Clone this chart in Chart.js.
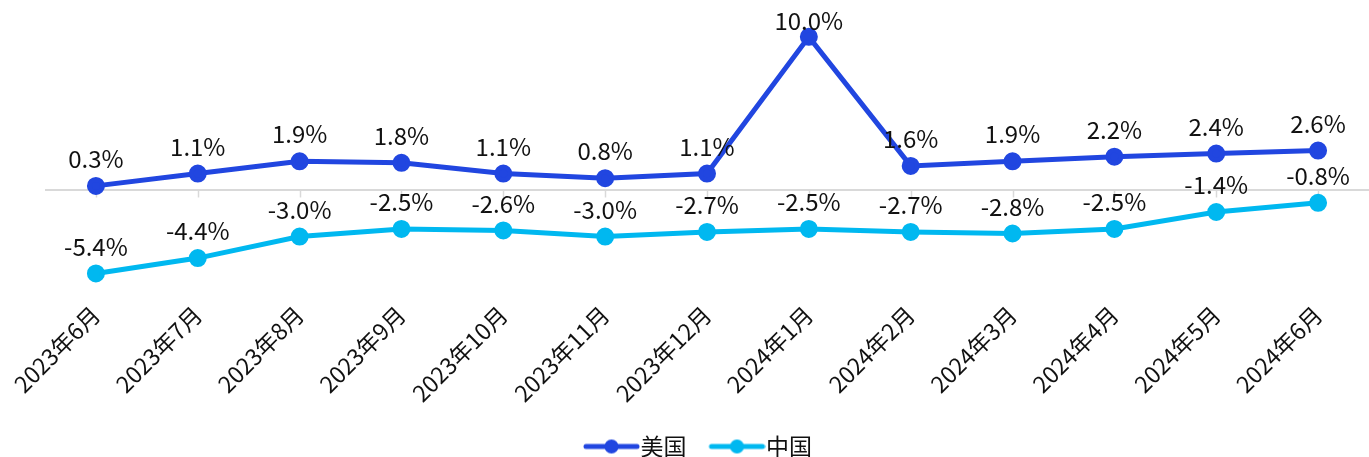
<!DOCTYPE html>
<html>
<head>
<meta charset="utf-8">
<script src="https://cdn.jsdelivr.net/npm/chart.js@4/dist/chart.umd.min.js"></script>
<style>
  html, body { margin: 0; padding: 0; background: #fff; }
  #wrap { width: 1369px; height: 457px; }
</style>
</head>
<body>
<div id="wrap"><canvas id="c" width="1369" height="457"></canvas></div>
<script>
// Months along the category axis
const months = ['2023年6月', '2023年7月', '2023年8月', '2023年9月', '2023年10月', '2023年11月', '2023年12月',
                '2024年1月', '2024年2月', '2024年3月', '2024年4月', '2024年5月', '2024年6月'];
// Year-on-year change, percent
const usValues = [0.3, 1.1, 1.9, 1.8, 1.1, 0.8, 1.1, 10.0, 1.6, 1.9, 2.2, 2.4, 2.6];
const cnValues = [-5.4, -4.4, -3.0, -2.5, -2.6, -3.0, -2.7, -2.5, -2.7, -2.8, -2.5, -1.4, -0.8];
const seriesNames = ['美国', '中国'];
const seriesColors = ['#2146E0', '#00B8F0'];

const FONT = '"Noto Sans CJK SC", "Noto Sans", sans-serif';

// Legend swatch: a short line with a dot in the middle
function swatch(color) {
  const cv = document.createElement('canvas');
  cv.width = 66; cv.height = 16;
  const g = cv.getContext('2d');
  g.strokeStyle = color; g.lineWidth = 5; g.lineCap = 'round';
  g.beginPath(); g.moveTo(12, 8); g.lineTo(63, 8); g.stroke();
  g.fillStyle = color;
  g.beginPath(); g.arc(37.5, 8, 7, 0, Math.PI * 2); g.fill();
  return cv;
}

// Value labels above every point
const valueLabels = {
  id: 'valueLabels',
  afterDatasetsDraw(chart) {
    const ctx = chart.ctx;
    ctx.save();
    ctx.font = '24px ' + FONT;
    ctx.fillStyle = '#111';
    ctx.textAlign = 'center';
    ctx.textBaseline = 'middle';
    chart.data.datasets.forEach((ds, i) => {
      chart.getDatasetMeta(i).data.forEach((pt, j) => {
        const y = Math.max(pt.y - 27, 21);
        ctx.fillText(ds.data[j].toFixed(1) + '%', pt.x, y);
      });
    });
    ctx.restore();
  }
};

// Short tick marks hanging below the zero line at each category
const zeroTicks = {
  id: 'zeroTicks',
  beforeDatasetsDraw(chart) {
    const ctx = chart.ctx;
    const x = chart.scales.x, y = chart.scales.y;
    const y0 = y.getPixelForValue(0);
    ctx.save();
    ctx.strokeStyle = '#d9d9d9';
    ctx.lineWidth = 1.5;
    months.forEach((m, i) => {
      const px = Math.round(x.getPixelForValue(i)) + 0.5;
      ctx.beginPath(); ctx.moveTo(px, y0); ctx.lineTo(px, y0 + 7); ctx.stroke();
    });
    ctx.restore();
  }
};

new Chart(document.getElementById('c'), {
  type: 'line',
  data: {
    labels: months,
    datasets: [usValues, cnValues].map((vals, i) => ({
      label: seriesNames[i],
      data: vals,
      borderColor: seriesColors[i],
      backgroundColor: seriesColors[i],
      pointBackgroundColor: seriesColors[i],
      pointBorderColor: seriesColors[i],
      borderWidth: 5,
      pointRadius: 6.5,
      pointStyle: 'circle',
      tension: 0,
      clip: false
    }))
  },
  options: {
    responsive: false,
    animation: false,
    layout: { autoPadding: false, padding: { left: 28, right: 0, top: 0, bottom: -11 } },
    plugins: {
      tooltip: { enabled: false },
      legend: {
        position: 'bottom',
        labels: {
          usePointStyle: true,
          pointStyleWidth: 44,
          boxHeight: 16,
          padding: 24,
          color: '#111',
          font: { family: FONT, size: 23 },
          generateLabels(chart) {
            return chart.data.datasets.map((ds, i) => ({
              text: ds.label,
              pointStyle: swatch(seriesColors[i]),
              fillStyle: seriesColors[i],
              strokeStyle: seriesColors[i],
              lineWidth: 0,
              fontColor: '#111',
              datasetIndex: i
            }));
          }
        }
      }
    },
    scales: {
      x: {
        offset: true,
        grid: { display: false },
        border: { display: false },
        afterFit(scale) { scale.paddingRight = 0; },
        ticks: {
          autoSkip: false,
          minRotation: 45,
          maxRotation: 45,
          padding: 4,
          color: '#111',
          font: { family: FONT, size: 23 }
        }
      },
      y: {
        min: -6.4,
        max: 12.4,
        display: true,
        afterFit(scale) { scale.width = 17; },
        ticks: { display: false, stepSize: 0.2 },
        border: { display: false },
        grid: {
          drawTicks: false,
          lineWidth: 2,
          color: c => (c.tick && Math.abs(c.tick.value) < 1e-9 ? '#d9d9d9' : 'rgba(0,0,0,0)')
        }
      }
    }
  },
  plugins: [zeroTicks, valueLabels]
});
</script>
</body>
</html>
